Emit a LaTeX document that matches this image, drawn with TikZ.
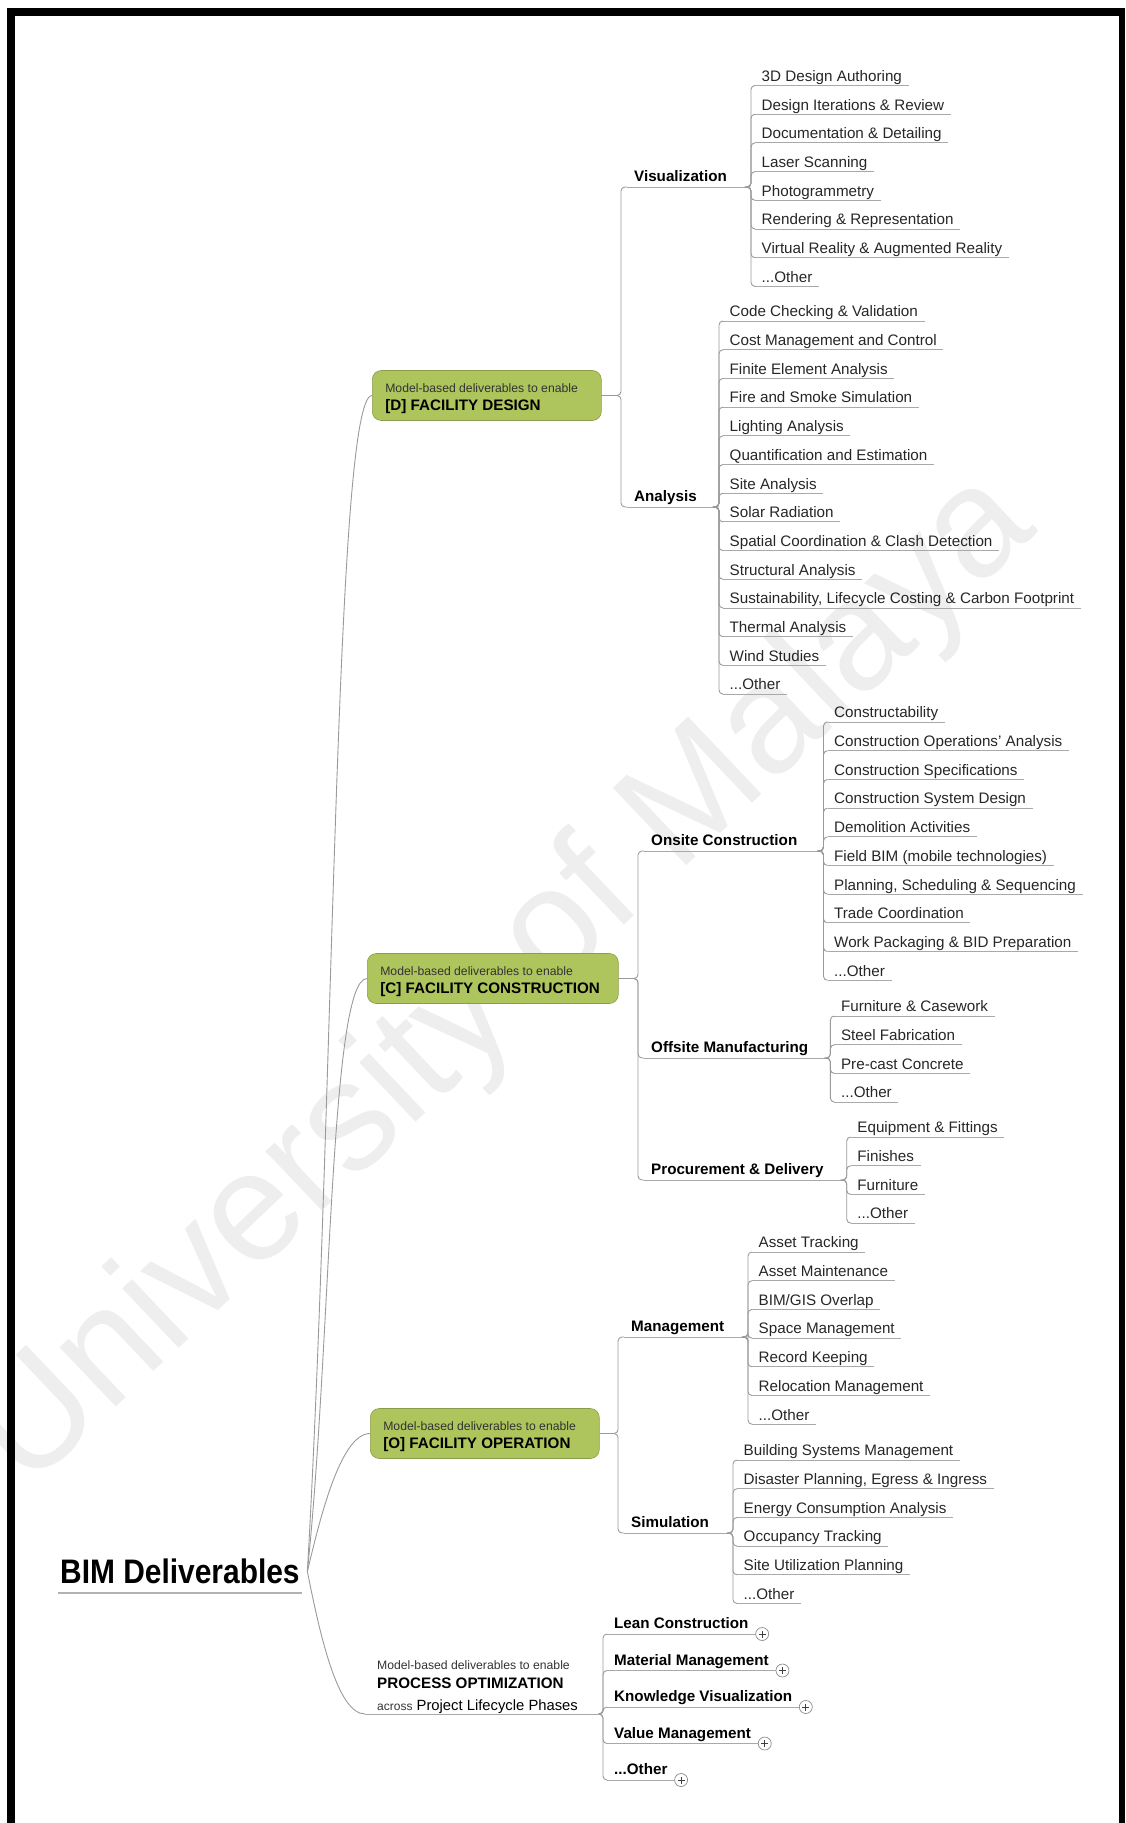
\documentclass[tikz,border=0pt]{standalone}
\usepackage{fontspec}
\setmainfont{Liberation Sans}
\newfontfamily\bimfont{Liberation Sans}[FakeStretch=0.88]
\usetikzlibrary{calc}
\setlength{\parindent}{0pt}
\definecolor{boxgreen}{HTML}{AEC45C}
\definecolor{linkgray}{HTML}{9A9A9A}
\definecolor{markgray}{HTML}{EEEEEE}

\newcommand{\other}{...Other}
\newcommand{\fixsp}{\spaceskip=\fontdimen2\font\xspaceskip=0pt\relax}
\newcommand{\branch}[3][4]{\draw[link] (#2) -| ([xshift=-#1pt]#3.south west) -- (#3.south west);}
\newcommand{\leaves}[4]{%
 \foreach \t [count=\k from 0] in {#4} {
  \node[leaf] (#1-\k) at (#2,#3+28.7*\k) {\t};
  \draw[uline] (#1-\k.south west) -- (#1-\k.south east);
  \branch{#1e}{#1-\k}
 }}
\newcommand{\enable}{{\normalfont\fontsize{12.2}{14}\selectfont\fixsp\color{black!80}\rule{0pt}{15pt}Model-based deliverables to enable\par}}

\tikzset{
 link/.style={draw=linkgray, line width=0.9pt, rounded corners=4pt},
 uline/.style={draw=linkgray!85, line width=0.9pt},
 leaf/.style={anchor=south west, inner xsep=6.5pt, inner ysep=4pt, text depth=0pt, text=black!85, font=\fontsize{15.2}{18}\selectfont},
 sub/.style={anchor=south west, inner xsep=7pt, inner ysep=5pt, text depth=0pt, font=\fontsize{15.2}{18}\selectfont\bfseries},
 phase/.style={rounded corners=9pt, fill=boxgreen, draw=boxgreen!80!black, line width=0.6pt, anchor=west, align=left, inner xsep=13pt, minimum height=50pt, font=\fontsize{15.2}{18}\selectfont\bfseries},
 expand/.style={circle, draw=black!45, fill=white, line width=0.7pt, minimum size=13pt, inner sep=0pt,
  path picture={\draw[black!75, line width=0.8pt] ([xshift=-3.5pt]path picture bounding box.center) -- ([xshift=3.5pt]path picture bounding box.center) ([yshift=-3.5pt]path picture bounding box.center) -- ([yshift=3.5pt]path picture bounding box.center);}}
}

\begin{document}
\begin{tikzpicture}[x=1pt,y=-1pt]
\useasboundingbox (0,0) rectangle (1125,1823);
\node[text=markgray, rotate=43.5, font=\fontsize{155}{160}\selectfont] (mark) at (506,982) {University of Malaya};

\node[anchor=south west, inner xsep=2.5pt, inner ysep=9pt, text depth=0pt, font=\bimfont\fontsize{34}{40}\selectfont\bfseries] (bim) at (57.5,1593) {BIM Deliverables};
\draw[draw=black!30, line width=1.2pt] (bim.south west) -- (bim.south east);

\node[phase, text width=203pt] (fd) at (372,395.5) {\enable\fixsp [D] FACILITY DESIGN\par};
\node[phase, text width=225pt] (fc) at (367,978.5) {\enable\fixsp [C] FACILITY CONSTRUCTION\par};
\node[phase, text width=203pt] (fo) at (370,1433.5) {\enable\fixsp [O] FACILITY OPERATION\par};
\node[anchor=south west, inner xsep=12pt, inner ysep=0.5pt, text width=209pt, align=left] (po) at (365,1714)
 {\enable{\fontsize{15.2}{19}\selectfont\bfseries\fixsp PROCESS OPTIMIZATION\par}{\fontsize{14.8}{21.5}\selectfont\fixsp{\fontsize{12}{21.5}\selectfont\color{black!80}across} Project Lifecycle Phases\par}};
\draw[uline] (po.south west) -- (po.south east);

\draw[link] ([xshift=5pt]bim.east) .. controls +(27,-470) and +(-37,0) .. (fd.west);
\draw[link] ([xshift=5pt]bim.east) .. controls +(24,-230) and +(-37,0) .. (fc.west);
\draw[link] ([xshift=5pt]bim.east) .. controls +(12,-50) and +(-30,0) .. (fo.west);
\draw[link] ([xshift=5pt]bim.east) .. controls +(12,60) and +(-28,0) .. (po.south west);

\foreach \n/\x/\y/\t in {vis/627/187/Visualization, ana/627/507/Analysis, ons/644/851/Onsite Construction, off/644/1058/Offsite Manufacturing, pro/644/1180/Procurement \& Delivery, man/624/1337/Management, sim/624/1533/Simulation} {
 \node[sub] (\n) at (\x,\y) {\t};
 \coordinate (\n e) at ([xshift=13pt]\n.south east);
 \draw[uline] (\n.south west) -- (\n e);
}
\branch[6]{fd.east}{vis}
\branch[6]{fd.east}{ana}
\branch[6]{fc.east}{ons}
\branch[6]{fc.east}{off}
\branch[6]{fc.east}{pro}
\branch[6]{fo.east}{man}
\branch[6]{fo.east}{sim}

\leaves{vis}{755}{85.5}{3D Design Authoring, Design Iterations \& Review, Documentation \& Detailing, Laser Scanning, Photogrammetry, Rendering \& Representation, Virtual Reality \& Augmented Reality, \other}
\leaves{ana}{723}{321}{Code Checking \& Validation, Cost Management and Control, Finite Element Analysis, Fire and Smoke Simulation, Lighting Analysis, Quantification and Estimation, Site Analysis, Solar Radiation, Spatial Coordination \& Clash Detection, Structural Analysis, {Sustainability, Lifecycle Costing \& Carbon Footprint}, Thermal Analysis, Wind Studies, \other}
\leaves{ons}{827.5}{722}{Constructability, Construction Operations' Analysis, Construction Specifications, Construction System Design, Demolition Activities, Field BIM (mobile technologies), {Planning, Scheduling \& Sequencing}, Trade Coordination, Work Packaging \& BID Preparation, \other}
\leaves{off}{834.4}{1016}{Furniture \& Casework, Steel Fabrication, Pre-cast Concrete, \other}
\leaves{pro}{850.7}{1137}{Equipment \& Fittings, Finishes, Furniture, \other}
\leaves{man}{752}{1252}{Asset Tracking, Asset Maintenance, BIM/GIS Overlap, Space Management, Record Keeping, Relocation Management, \other}
\leaves{sim}{737}{1460}{Building Systems Management, {Disaster Planning, Egress \& Ingress}, Energy Consumption Analysis, Occupancy Tracking, Site Utilization Planning, \other}

\foreach \t [count=\k from 0] in {Lean Construction, Material Management, Knowledge Visualization, Value Management, \other} {
 \node[sub] (pl-\k) at (607,1634+36.5*\k) {\t};
 \draw[uline] (pl-\k.south west) -- (pl-\k.south east);
 \branch{po.south east}{pl-\k}
 \node[expand] (px-\k) at ([xshift=6.5pt]pl-\k.south east) {};
}

\fill (7,8) rectangle (15,1823);
\fill (7,8) rectangle (1125,16);
\fill (1119,8) rectangle (1125,1823);
\end{tikzpicture}
\end{document}
